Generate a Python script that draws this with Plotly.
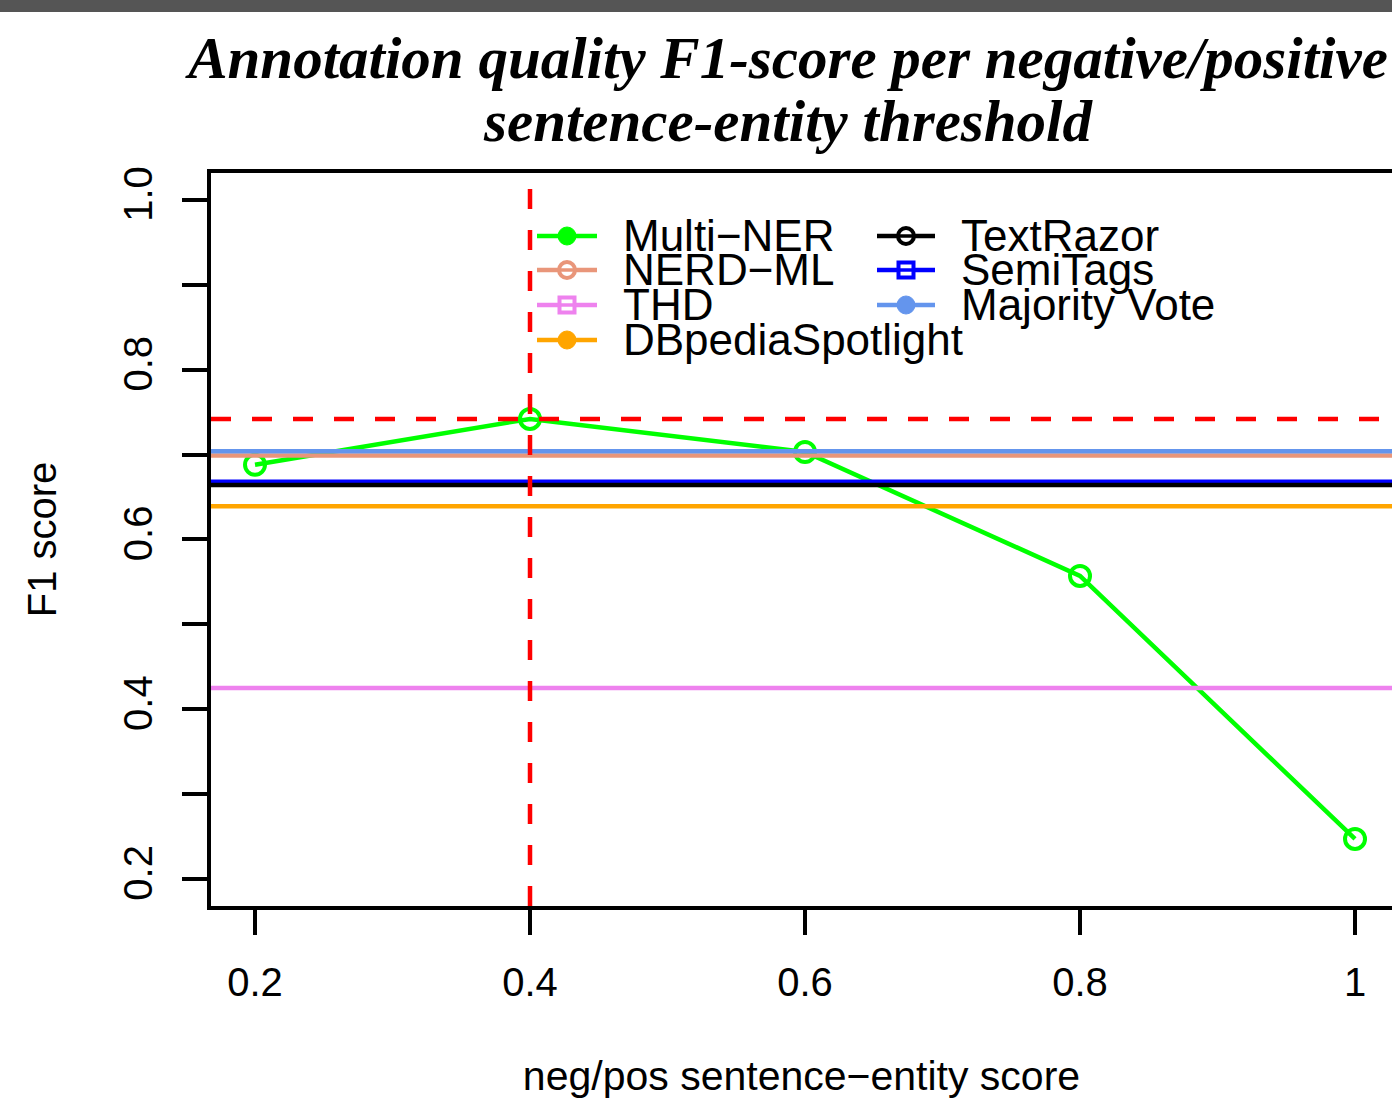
import plotly.graph_objects as go

# ---------------- data ----------------
thresholds = [0.2, 0.4, 0.6, 0.8, 1.0]
multi_ner_f1 = [0.688, 0.742, 0.703, 0.557, 0.247]

baseline_names = ["NERD\u2212ML", "THD", "DBpediaSpotlight", "SemiTags", "TextRazor", "Majority Vote"]
baseline_f1 = [0.699, 0.425, 0.639, 0.668, 0.664, 0.704]
baseline_colors = ["#E9967A", "#EE82EE", "#FFA500", "#0000FF", "#000000", "#6495ED"]

best_threshold = 0.4
best_f1 = 0.742

x_tick_vals = [0.2, 0.4, 0.6, 0.8, 1.0]
x_tick_text = ["0.2", "0.4", "0.6", "0.8", "1"]
y_tick_vals = [0.2, 0.3, 0.4, 0.5, 0.6, 0.7, 0.8, 0.9, 1.0]
y_tick_text = ["0.2", "", "0.4", "", "0.6", "", "0.8", "", "1.0"]

legend_col1 = ["Multi\u2212NER", "NERD\u2212ML", "THD", "DBpediaSpotlight"]
legend_col1_colors = ["#00FF00", "#E9967A", "#EE82EE", "#FFA500"]
legend_col1_symbols = ["dot", "ring", "square", "dot"]
legend_col2 = ["TextRazor", "SemiTags", "Majority Vote"]
legend_col2_colors = ["#000000", "#0000FF", "#6495ED"]
legend_col2_symbols = ["ring", "square", "dot"]

# ---------------- layout geometry (pixels) ----------------
W, H = 1392, 1099
L, R_, T, B = 211, 0, 173, 193
PW = W - L - R_
PH = H - T - B


def px(x):
    return (x - L) / PW


def py(y):
    return (H - B - y) / PH


FONT = "Liberation Sans, Arial, Helvetica, sans-serif"
SERIF = "Liberation Serif, Times New Roman, serif"
LW = 4.5

fig = go.Figure()

fig.add_trace(go.Scatter(
    x=thresholds, y=multi_ner_f1, mode="lines+markers",
    line=dict(color="#00FF00", width=LW),
    marker=dict(symbol="circle-open", size=20, color="#00FF00", line=dict(width=4, color="#00FF00")),
    showlegend=False, name="Multi-NER",
))

for name, val, col in zip(baseline_names, baseline_f1, baseline_colors):
    fig.add_hline(y=val, line=dict(color=col, width=LW))

fig.add_hline(y=best_f1, line=dict(color="#FF0000", width=LW, dash="20px,21px"))
fig.add_vline(x=best_threshold, line=dict(color="#FF0000", width=LW, dash="20px,21px"))

# ---------------- manual legend (two columns, R style) ----------------
row_y = [236, 270, 305, 340]


def add_legend_entry(label, color, symbol, line_x0, line_x1, text_x, yy):
    fig.add_shape(type="line", xref="paper", yref="paper",
                  x0=px(line_x0), x1=px(line_x1), y0=py(yy), y1=py(yy),
                  line=dict(color=color, width=LW))
    cx = (line_x0 + line_x1) / 2
    if symbol == "dot":
        r = 9
        fig.add_shape(type="circle", xref="paper", yref="paper",
                      x0=px(cx - r), x1=px(cx + r), y0=py(yy + r), y1=py(yy - r),
                      fillcolor=color, line=dict(color=color, width=1))
    elif symbol == "ring":
        r = 8
        fig.add_shape(type="circle", xref="paper", yref="paper",
                      x0=px(cx - r), x1=px(cx + r), y0=py(yy + r), y1=py(yy - r),
                      fillcolor="white", line=dict(color=color, width=4))
        fig.add_shape(type="line", xref="paper", yref="paper",
                      x0=px(cx - r), x1=px(cx + r), y0=py(yy), y1=py(yy),
                      line=dict(color=color, width=3.5))
    else:
        r = 7.5
        fig.add_shape(type="rect", xref="paper", yref="paper",
                      x0=px(cx - r), x1=px(cx + r), y0=py(yy + r), y1=py(yy - r),
                      fillcolor="white", line=dict(color=color, width=4))
        fig.add_shape(type="line", xref="paper", yref="paper",
                      x0=px(cx - r), x1=px(cx + r), y0=py(yy), y1=py(yy),
                      line=dict(color=color, width=3.5))
    fig.add_annotation(text=label, xref="paper", yref="paper",
                       x=px(text_x), y=py(yy - 1), xanchor="left", yanchor="middle",
                       showarrow=False, font=dict(family=FONT, size=44, color="black"))


for i, (lab, col, sym) in enumerate(zip(legend_col1, legend_col1_colors, legend_col1_symbols)):
    add_legend_entry(lab, col, sym, 537, 597, 621, row_y[i])
for i, (lab, col, sym) in enumerate(zip(legend_col2, legend_col2_colors, legend_col2_symbols)):
    add_legend_entry(lab, col, sym, 877, 935, 959, row_y[i])

# dark band at the very top
fig.add_shape(type="rect", xref="paper", yref="paper",
              x0=px(0), x1=px(W), y0=py(12), y1=py(0),
              fillcolor="#555555", line=dict(width=0), layer="above")

# second title line
fig.add_annotation(text="<b><i>sentence-entity threshold</i></b>", xref="paper", yref="paper",
                   x=px(788), y=py(121), xanchor="center", yanchor="middle", showarrow=False,
                   font=dict(family=SERIF, size=59, color="black"))

fig.update_layout(
    width=W, height=H,
    margin=dict(l=L, r=R_, t=T, b=B, pad=0),
    paper_bgcolor="white", plot_bgcolor="white",
    showlegend=False,
    title=dict(text="<b><i>Annotation quality F1-score per negative/positive</i></b>",
               x=788 / W, xanchor="center", xref="container",
               y=1 - 57 / H, yanchor="middle", yref="container",
               font=dict(family=SERIF, size=59, color="black")),
    xaxis=dict(range=[0.168, 1.0269], showgrid=False, zeroline=False,
               showline=True, linewidth=4, linecolor="black", mirror=True,
               ticks="outside", ticklen=25, tickwidth=4, tickcolor="black",
               tickvals=x_tick_vals, ticktext=x_tick_text,
               tickfont=dict(family=FONT, size=40, color="black"),
               ticklabelstandoff=13,
               title=dict(text="neg/pos sentence\u2212entity score",
                          font=dict(family=FONT, size=41, color="black"), standoff=66),
               automargin=False),
    yaxis=dict(range=[0.168, 1.0318], showgrid=False, zeroline=False,
               showline=True, linewidth=4, linecolor="black", mirror=False,
               ticks="outside", ticklen=25, tickwidth=4, tickcolor="black",
               tickvals=y_tick_vals, ticktext=y_tick_text, tickangle=-90,
               tickfont=dict(family=FONT, size=40, color="black"),
               ticklabelstandoff=14,
               title=dict(text="F1 score",
                          font=dict(family=FONT, size=40, color="black"), standoff=48),
               automargin=False),
)

fig.write_html("out.html", config={"displayModeBar": False},
               post_script="document.body.style.margin='0';document.body.style.overflow='hidden';")
